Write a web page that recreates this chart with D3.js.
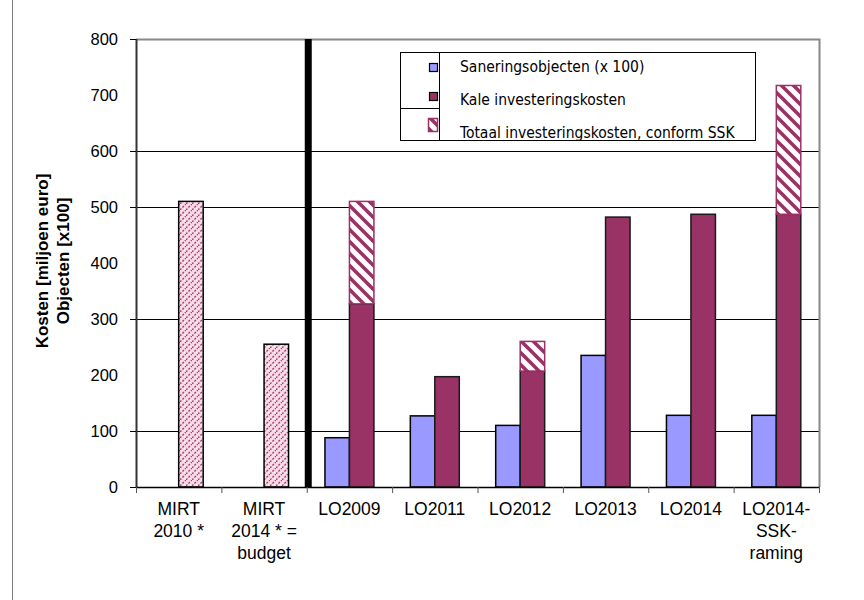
<!DOCTYPE html>
<html><head><meta charset="utf-8">
<script src="https://cdn.jsdelivr.net/npm/d3@7"></script>
<style>body{margin:0;background:#fff}svg{display:block}</style>
</head><body>
<svg id="c" width="864" height="600"></svg>
<script>
const categories = ["MIRT 2010", "MIRT 2014", "LO2009", "LO2011", "LO2012", "LO2013", "LO2014", "LO2014-SSK"];
const categoryLabels = [["MIRT","2010 *"],["MIRT","2014 * =","budget"],["LO2009"],["LO2011"],["LO2012"],["LO2013"],["LO2014"],["LO2014-","SSK-","raming"]];
const mirtBudget = [510, 255, null, null, null, null, null, null];
const sanering = [null, null, 88, 127, 110, 235, 128, 128];
const kale = [null, null, 327, 197, 207, 482, 487, 487];
const totaal = [null, null, 510, null, 260, null, null, 717];
const yTicks = [0, 100, 200, 300, 400, 500, 600, 700, 800];
const gridShown = [100, 300, 500, 600];
const legendLabels = ["Saneringsobjecten (x 100)", "Kale investeringskosten", "Totaal investeringskosten, conform SSK"];

const svg = d3.select("#c");
const L = 136, R = 819, T = 39, B = 487;
const x = d3.scaleBand().domain(categories).range([L, R]).padding(0);
const sub = d3.scaleBand().domain(["s","k"]).range([0, x.bandwidth()]).paddingInner(0).paddingOuter(0.743);
const y = d3.scaleLinear().domain([0, 800]).range([B, T]);

const defs = svg.append("defs");
const hp = defs.append("pattern").attr("id","hatch").attr("patternUnits","userSpaceOnUse")
  .attr("width",12).attr("height",12);
hp.append("rect").attr("width",12).attr("height",12).attr("fill","#fff");
hp.append("path").attr("d","M-3,-3 L15,15 M-9,3 L3,15 M9,-3 L21,9").attr("stroke","#993366").attr("stroke-width",3.6);
const mp = defs.append("pattern").attr("id","dots").attr("patternUnits","userSpaceOnUse")
  .attr("width",6).attr("height",6);
mp.append("rect").attr("width",6).attr("height",6).attr("fill","#f5dbe6");
mp.append("path").attr("d","M0,6 L6,0").attr("stroke","#b83a70").attr("stroke-width",1.4).attr("stroke-dasharray","2,1.5");
mp.append("rect").attr("x",4).attr("y",4).attr("width",1).attr("height",1).attr("fill","#fff");

// outer frame line
svg.append("line").attr("x1",12.5).attr("x2",12.5).attr("y1",0).attr("y2",600).attr("stroke","#808080");

// gridlines
svg.append("g").selectAll("line").data(gridShown).join("line")
  .attr("x1",L).attr("x2",R).attr("y1",d=>Math.round(y(d))+0.5).attr("y2",d=>Math.round(y(d))+0.5)
  .attr("stroke","#000").attr("stroke-width",1);
// plot border top/right
svg.append("path").attr("d",`M${L},${T+0.5} H${R+0.5} V${B}`).attr("fill","none").attr("stroke","#888").attr("stroke-width",2);

// MIRT bars
svg.append("g").selectAll("rect").data(categories.map((c,i)=>({c,v:mirtBudget[i]})).filter(d=>d.v!=null)).join("rect")
  .attr("x",d=>x(d.c)+sub("k")).attr("width",sub.bandwidth()).attr("y",d=>y(d.v)).attr("height",d=>y(0)-y(d.v))
  .attr("fill","url(#dots)").attr("stroke","#000").attr("stroke-width",1.5);
// sanering
svg.append("g").selectAll("rect").data(categories.map((c,i)=>({c,v:sanering[i]})).filter(d=>d.v!=null)).join("rect")
  .attr("x",d=>x(d.c)+sub("s")).attr("width",sub.bandwidth()).attr("y",d=>y(d.v)).attr("height",d=>y(0)-y(d.v))
  .attr("fill","#9999ff").attr("stroke","#000").attr("stroke-width",1.5);
// kale
svg.append("g").selectAll("rect").data(categories.map((c,i)=>({c,v:kale[i]})).filter(d=>d.v!=null)).join("rect")
  .attr("x",d=>x(d.c)+sub("k")).attr("width",sub.bandwidth()).attr("y",d=>y(d.v)).attr("height",d=>y(0)-y(d.v))
  .attr("fill","#993366").attr("stroke","#1a1a1a").attr("stroke-width",1.5);
// totaal (stacked above kale)
svg.append("g").selectAll("rect").data(categories.map((c,i)=>({c,v:totaal[i],b:kale[i]})).filter(d=>d.v!=null)).join("rect")
  .attr("x",d=>x(d.c)+sub("k")).attr("width",sub.bandwidth()).attr("y",d=>y(d.v)).attr("height",d=>y(d.b)-y(d.v))
  .attr("fill","url(#hatch)").attr("stroke","#993366").attr("stroke-width",1.5);

// thick separator
svg.append("line").attr("x1",x("LO2009")+1.5).attr("x2",x("LO2009")+1.5).attr("y1",T).attr("y2",B)
  .attr("stroke","#000").attr("stroke-width",7);

// y axis
const ya = svg.append("g").attr("transform",`translate(${L},0)`)
  .call(d3.axisLeft(y).tickValues(yTicks).tickSize(6).tickPadding(12).tickFormat(d3.format("d")));
ya.select(".domain").attr("stroke","#333").attr("stroke-width",2).attr("d",`M0.5,${T}V${B}`);
ya.selectAll(".tick line").attr("stroke","#000").attr("display",d=>(gridShown.includes(d)||d===0||d===800)?null:"none");
ya.selectAll(".tick text").attr("font-family","Liberation Sans, Arial, sans-serif").attr("font-size",16.5).attr("fill","#000");

// x axis
const xa = svg.append("g").attr("transform",`translate(0,${B})`);
xa.append("line").attr("x1",L).attr("x2",R+1).attr("y1",0.5).attr("y2",0.5).attr("stroke","#000").attr("stroke-width",1.5);
xa.selectAll(".tk").data(categories.concat(["end"])).join("line").attr("class","tk")
  .attr("x1",(d,i)=>i<categories.length? x(d)+0.5 : R+0.5).attr("x2",(d,i)=>i<categories.length? x(d)+0.5 : R+0.5)
  .attr("y1",0).attr("y2",6).attr("stroke","#555");
const lab = xa.selectAll(".lb").data(categories).join("text").attr("class","lb")
  .attr("font-family","Liberation Sans, Arial, sans-serif").attr("font-size",17.5).attr("text-anchor","middle").attr("fill","#000");
lab.each(function(d,i){
  const t = d3.select(this);
  categoryLabels[i].forEach((s,j)=>{
    t.append("tspan").attr("x",x(d)+x.bandwidth()/2).attr("y",28+j*22).text(s);
  });
});

// y title
const yt = svg.append("text").attr("transform","translate(0,261) rotate(-90)")
  .attr("font-family","Liberation Sans, Arial, sans-serif").attr("font-size",17).attr("font-weight","bold").attr("text-anchor","middle");
yt.append("tspan").attr("x",0).attr("y",48).text("Kosten [miljoen euro]");
yt.append("tspan").attr("x",0).attr("y",69).text("Objecten [x100]");

// legend
const lg = svg.append("g");
lg.append("rect").attr("x",400.5).attr("y",52.5).attr("width",355).attr("height",88).attr("fill","#fff").attr("stroke","#000");
lg.append("line").attr("x1",439.5).attr("x2",439.5).attr("y1",52).attr("y2",141).attr("stroke","#000");
lg.append("line").attr("x1",400).attr("x2",440).attr("y1",108.5).attr("y2",108.5).attr("stroke","#000");
lg.append("rect").attr("x",429.5).attr("y",63.5).attr("width",8).attr("height",8).attr("fill","#9999ff").attr("stroke","#000").attr("stroke-width",1.2);
lg.append("rect").attr("x",429.5).attr("y",92.5).attr("width",8).attr("height",8).attr("fill","#993366").attr("stroke","#000").attr("stroke-width",1.2);
lg.append("rect").attr("x",428.5).attr("y",118.5).attr("width",9).attr("height",13).attr("fill","url(#hatch)").attr("stroke","#993366").attr("stroke-width",1.5);
lg.selectAll(".lt").data(legendLabels).join("text").attr("class","lt")
  .attr("x",460).attr("y",(d,i)=>72+i*33)
  .attr("font-family","DejaVu Sans Condensed, DejaVu Sans, sans-serif").attr("font-stretch","condensed").attr("font-size",15.5).attr("fill","#000").text(d=>d);
</script>
</body></html>
